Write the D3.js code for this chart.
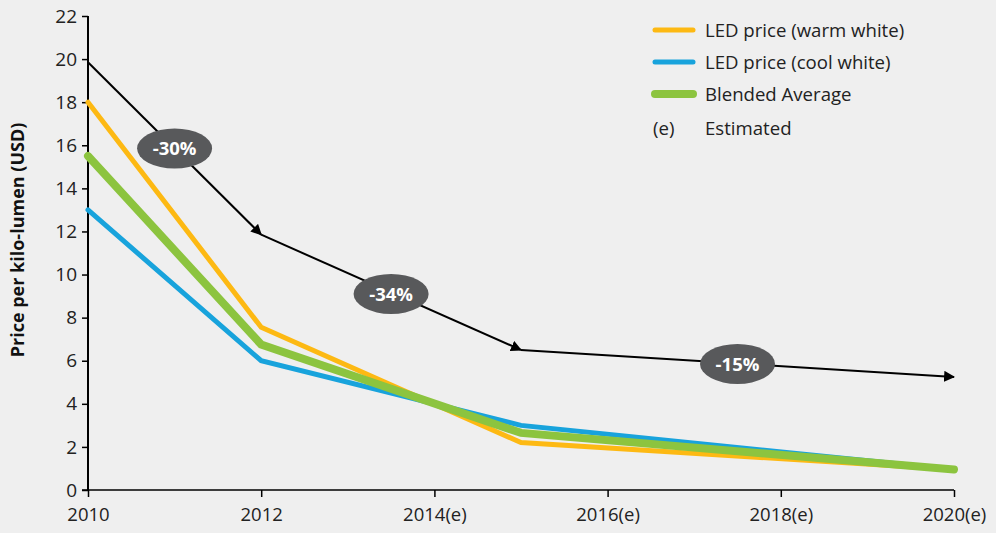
<!DOCTYPE html>
<html>
<head>
<meta charset="utf-8">
<script src="https://cdn.jsdelivr.net/npm/d3@7"></script>
<style>
  body { margin: 0; background: #efefef; }
  svg { display: block; font-family: "Open Sans", Roboto, sans-serif; }
</style>
</head>
<body>
<script>
var years = [2010, 2012, 2015, 2020];
var warmWhite = [18.0, 7.55, 2.2, 0.95];
var coolWhite = [13.0, 6.0, 3.0, 0.95];
var blended = [15.5, 6.75, 2.65, 0.95];
var trend = [19.85, 11.85, 6.5, 5.25];

var tickYears = [2010, 2012, 2014, 2016, 2018, 2020];
var tickLabels = ["2010", "2012", "2014(e)", "2016(e)", "2018(e)", "2020(e)"];
var yTicks = [0, 2, 4, 6, 8, 10, 12, 14, 16, 18, 20, 22];

var pillLabels = ["-30%", "-34%", "-15%"];
var pillYears = [2011.0, 2013.5, 2017.5];
var pillValues = [15.85, 9.1, 5.85];

var legendNames = ["LED price (warm white)", "LED price (cool white)", "Blended Average"];

(function() {

    var width = 996,
        height = 533;

    var svg = d3.select("body")
        .append("svg")
        .attr("width", width)
        .attr("height", height);

    var x = d3.scaleLinear()
        .domain([2010, 2020])
        .range([88, 954]);

    var y = d3.scaleLinear()
        .domain([0, 22])
        .range([490, 16]);

    // arrow marker
    svg.append("defs").append("marker")
        .attr("id", "arrow")
        .attr("viewBox", "0 0 10 10")
        .attr("refX", 9)
        .attr("refY", 5)
        .attr("markerWidth", 5.5)
        .attr("markerHeight", 5.5)
        .attr("markerUnits", "strokeWidth")
        .attr("orient", "auto")
        .append("path")
        .attr("d", "M0,0L10,5L0,10z")
        .attr("fill", "#000");

    // y axis
    var yAxis = svg.append("g")
        .attr("transform", "translate(" + x(2010) + ",0)")
        .call(d3.axisLeft(y).tickValues(yTicks).tickSize(6).tickPadding(5));
    yAxis.select(".domain").attr("stroke-width", 2).attr("d", "M0," + y(22) + "V" + y(0));
    yAxis.selectAll("line").attr("stroke-width", 1.5);
    yAxis.selectAll("text").attr("font-size", 19).attr("fill", "#222")
        .attr("font-family", "'Open Sans', sans-serif");

    // x axis
    var xAxis = svg.append("g")
        .attr("transform", "translate(0," + y(0) + ")")
        .call(d3.axisBottom(x).tickValues(tickYears)
            .tickFormat(function(d, i) { return tickLabels[i]; })
            .tickSize(7).tickPadding(11));
    xAxis.select(".domain").attr("stroke-width", 1.5).attr("d", "M" + (x(2010) - 6) + ",0H" + x(2020));
    xAxis.selectAll("line").attr("stroke-width", 1.5);
    xAxis.selectAll("text").attr("font-size", 18.5).attr("fill", "#222")
        .attr("font-family", "'Open Sans', sans-serif");

    // y title
    svg.append("text")
        .attr("transform", "translate(24,240) rotate(-90)")
        .attr("text-anchor", "middle")
        .attr("font-size", 18)
        .attr("font-weight", "bold")
        .attr("fill", "#111")
        .text("Price per kilo-lumen (USD)");

    function makeLine(vals) {
        return d3.line()
            .x(function(d, i) { return x(years[i]); })
            .y(function(d) { return y(d); })(vals);
    }

    var series = [
        { vals: warmWhite, color: "#fdb913", w: 5 },
        { vals: coolWhite, color: "#18a3dc", w: 5 },
        { vals: blended, color: "#8cc43f", w: 8 }
    ];

    series.forEach(function(s) {
        svg.append("path")
            .attr("d", makeLine(s.vals))
            .attr("fill", "none")
            .attr("stroke", s.color)
            .attr("stroke-width", s.w)
            .attr("stroke-linecap", "round")
            .attr("stroke-linejoin", "miter");
    });

    // trend arrows, one per segment
    for (var i = 0; i < trend.length - 1; i++) {
        svg.append("line")
            .attr("x1", x(years[i]))
            .attr("y1", y(trend[i]))
            .attr("x2", x(years[i + 1]))
            .attr("y2", y(trend[i + 1]))
            .attr("stroke", "#000")
            .attr("stroke-width", 2)
            .attr("marker-end", "url(#arrow)");
    }

    // percentage pills
    pillLabels.forEach(function(lbl, i) {
        var g = svg.append("g")
            .attr("transform", "translate(" + x(pillYears[i]) + "," + y(pillValues[i]) + ")");
        g.append("ellipse")
            .attr("rx", 37.5)
            .attr("ry", 20)
            .attr("fill", "#58595b");
        g.append("text")
            .attr("text-anchor", "middle")
            .attr("dy", "0.36em")
            .attr("font-size", 18.5)
            .attr("font-weight", "bold")
            .attr("fill", "#fff")
            .text(lbl);
    });

    // legend
    var legend = svg.append("g").attr("transform", "translate(655,30)");
    series.forEach(function(s, i) {
        legend.append("line")
            .attr("x1", 0).attr("x2", 38)
            .attr("y1", i * 32).attr("y2", i * 32)
            .attr("stroke", s.color)
            .attr("stroke-width", s.w)
            .attr("stroke-linecap", "round");
        legend.append("text")
            .attr("x", 50)
            .attr("y", i * 32)
            .attr("dy", "0.35em")
            .attr("font-size", 18.6)
            .attr("fill", "#222")
            .text(legendNames[i]);
    });
    legend.append("text")
        .attr("x", -2).attr("y", 3 * 32 + 2)
        .attr("dy", "0.35em")
        .attr("font-size", 18.6)
        .attr("fill", "#222")
        .text("(e)");
    legend.append("text")
        .attr("x", 50).attr("y", 3 * 32 + 2)
        .attr("dy", "0.35em")
        .attr("font-size", 18.6)
        .attr("fill", "#222")
        .text("Estimated");

})();
</script>
</body>
</html>
